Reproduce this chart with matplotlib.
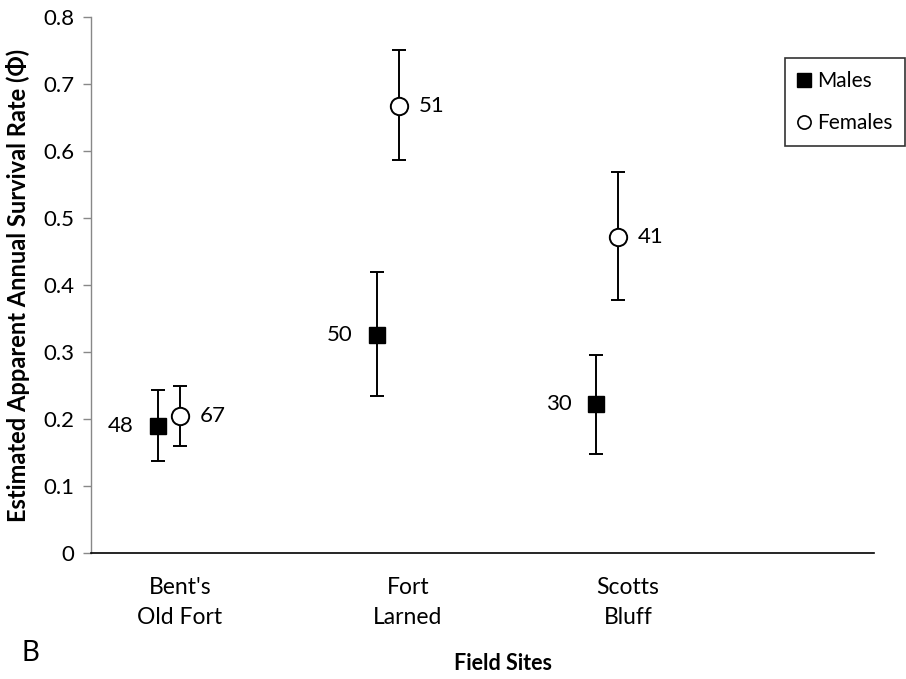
import matplotlib
matplotlib.use("Agg")
import matplotlib.pyplot as plt
from matplotlib.lines import Line2D

plt.rcParams['font.family'] = ['Lato', 'DejaVu Sans']

sites = ["Bent's\nOld Fort", "Fort\nLarned", "Scotts\nBluff"]
male_phi = [0.190, 0.325, 0.222]
male_low = [0.137, 0.234, 0.148]
male_high = [0.244, 0.420, 0.296]
male_n = [48, 50, 30]
female_phi = [0.204, 0.667, 0.471]
female_low = [0.159, 0.587, 0.377]
female_high = [0.250, 0.751, 0.568]
female_n = [67, 51, 41]
y_ticks = [0, 0.1, 0.2, 0.3, 0.4, 0.5, 0.6, 0.7, 0.8]
y_tick_labels = ["0", "0.1", "0.2", "0.3", "0.4", "0.5", "0.6", "0.7", "0.8"]

W, H = 906, 679
fig = plt.figure(figsize=(W / 100, H / 100), dpi=100)
ax = fig.add_axes([91 / W, 1 - 553 / H, (874 - 91) / W, (553 - 17) / H])

xf = [1, 2, 3]
xm = [x - 0.1 for x in xf]

m_err = [[p - l for p, l in zip(male_phi, male_low)], [h - p for p, h in zip(male_phi, male_high)]]
f_err = [[p - l for p, l in zip(female_phi, female_low)], [h - p for p, h in zip(female_phi, female_high)]]

ax.errorbar(xm, male_phi, yerr=m_err, fmt='s', color='black', markersize=12,
            elinewidth=1.4, capsize=5, capthick=1.4, zorder=3)
ax.errorbar(xf, female_phi, yerr=f_err, fmt='o', color='black', markerfacecolor='white',
            markeredgewidth=1.4, markersize=12.5, elinewidth=1.4, capsize=5, capthick=1.4, zorder=3)

for x, y, n in zip(xm, male_phi, male_n):
    ax.annotate(str(n), (x, y), xytext=(-26.6, 0), textcoords='offset points',
                ha='center', va='center', fontsize=16)
for x, y, n in zip(xf, female_phi, female_n):
    ax.annotate(str(n), (x, y), xytext=(23.5, 0), textcoords='offset points',
                ha='center', va='center', fontsize=16)

ax.set_xlim(0.594, 4.169)
ax.set_ylim(0, 0.8)
ax.set_yticks(y_ticks)
ax.set_yticklabels(y_tick_labels, fontsize=16)
ax.tick_params(axis='y', length=6, width=1, color='#888888', pad=6)
ax.set_xticks([1.0, 2.041, 3.046])
ax.set_xticklabels(sites, fontsize=16.5, linespacing=1.5)
ax.tick_params(axis='x', length=0, pad=17.5)

for s in ['top', 'right']:
    ax.spines[s].set_visible(False)
ax.spines['left'].set_color('#888888')
ax.spines['left'].set_linewidth(1)
ax.spines['bottom'].set_color('black')
ax.spines['bottom'].set_linewidth(1.2)

fig.text(18 / W, 1 - 285 / H, "Estimated Apparent Annual Survival Rate (\u03a6)", rotation=90,
         ha='center', va='center', fontsize=17, fontweight='bold')
fig.text(503 / W, 1 - 664 / H, "Field Sites", ha='center', va='center', fontsize=15.5, fontweight='bold')
fig.text(30 / W, 1 - 653 / H, "B", ha='center', va='center', fontsize=20)

handles = [Line2D([], [], marker='s', color='black', linestyle='none', markersize=10),
           Line2D([], [], marker='o', color='black', markerfacecolor='white', linestyle='none',
                  markersize=9.5, markeredgewidth=1.2)]
leg = fig.legend(handles, ['Males', 'Females'], loc='upper left',
                 bbox_to_anchor=(785 / W, 1 - 58 / H), fontsize=15, frameon=True,
                 fancybox=False, edgecolor='black', handlelength=0.6, handletextpad=0.3,
                 labelspacing=1.05, borderpad=0.62, borderaxespad=0)
leg.get_frame().set_linewidth(1.2)

fig.savefig("out.png", dpi=100)
